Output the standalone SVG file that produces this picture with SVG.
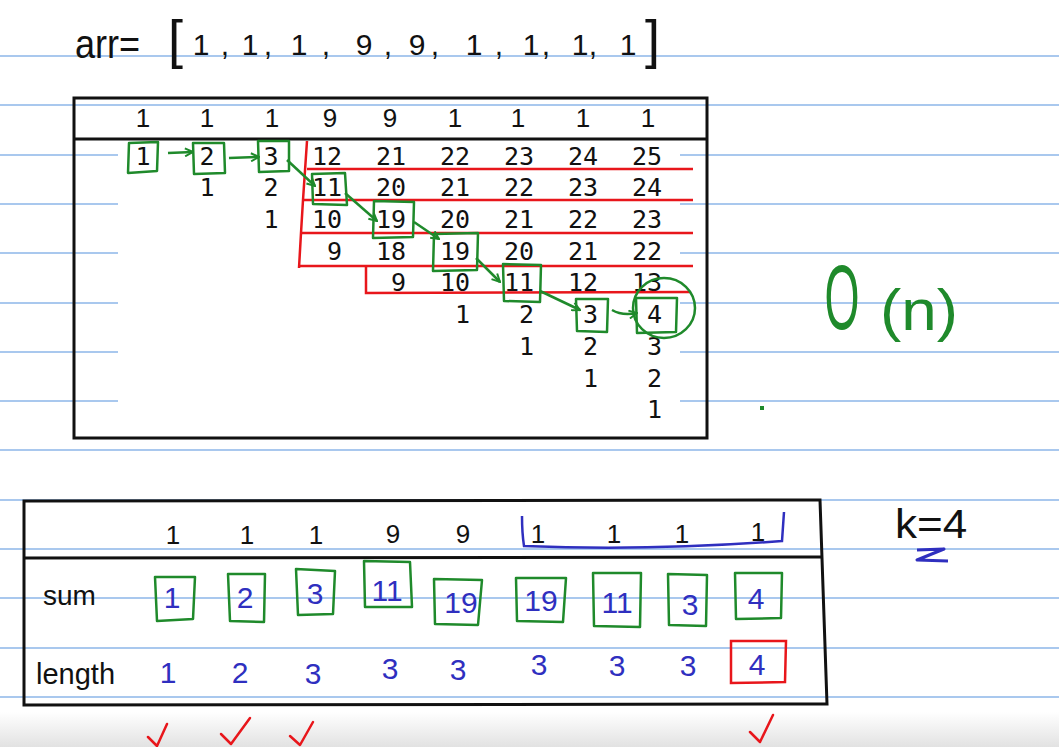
<svg xmlns="http://www.w3.org/2000/svg" width="1059" height="747" viewBox="0 0 1059 747">
<style>
.rule{stroke:#a9c8ee;stroke-width:2}
.frame{fill:none;stroke:#111;stroke-width:3}
.hand{font-family:"Liberation Sans",Arial,sans-serif;fill:#111}
.mono{font-family:"DejaVu Sans Mono","Liberation Mono",monospace;font-size:25px;fill:#111;text-anchor:end}
.hd{font-family:"Liberation Sans",Arial,sans-serif;font-size:26px;fill:#111;text-anchor:middle}
.bl{font-family:"Liberation Sans",Arial,sans-serif;font-size:30px;fill:#2f2fbf;text-anchor:middle}
.gbox{fill:none;stroke:#1f8a2b;stroke-width:2.5;stroke-linejoin:round}
.rbox{fill:none;stroke:#e8161b;stroke-width:2.5}
.red{fill:none;stroke:#e8161b;stroke-width:2.5}
.garr{fill:none;stroke:#1f8a2b;stroke-width:2.5;marker-end:url(#ga)}
.chk{fill:none;stroke:#e8161b;stroke-width:2.5;stroke-linecap:round;stroke-linejoin:round}
</style>
<defs>
<marker id="ga" viewBox="0 0 10 10" refX="9" refY="5" markerWidth="10" markerHeight="10" markerUnits="userSpaceOnUse" orient="auto">
<path d="M1,1 L9,5 L1,9" fill="none" stroke="#1f8a2b" stroke-width="2"/>
</marker>
<linearGradient id="fade" x1="0" y1="0" x2="0" y2="1">
<stop offset="0" stop-color="#ffffff"/>
<stop offset="1" stop-color="#e2e2e2"/>
</linearGradient>
</defs>
<rect width="1059" height="747" fill="#ffffff"/>
<rect x="0" y="712" width="1059" height="35" fill="url(#fade)"/>
<g id="rules">
<line class="rule" x1="0" y1="56" x2="1059" y2="56"/>
<line class="rule" x1="0" y1="105" x2="1059" y2="105"/>
<line class="rule" x1="0" y1="155" x2="1059" y2="155"/>
<line class="rule" x1="0" y1="204" x2="1059" y2="204"/>
<line class="rule" x1="0" y1="253" x2="1059" y2="253"/>
<line class="rule" x1="0" y1="303" x2="1059" y2="303"/>
<line class="rule" x1="0" y1="352" x2="1059" y2="352"/>
<line class="rule" x1="0" y1="401" x2="1059" y2="401"/>
<line class="rule" x1="0" y1="450" x2="1059" y2="450"/>
<line class="rule" x1="0" y1="500" x2="1059" y2="500"/>
<line class="rule" x1="0" y1="549" x2="1059" y2="549"/>
<line class="rule" x1="0" y1="598" x2="1059" y2="598"/>
<line class="rule" x1="0" y1="648" x2="1059" y2="648"/>
<line class="rule" x1="0" y1="697" x2="1059" y2="697"/>
</g>
<g id="arr-line">
<text class="hand" x="75" y="55" font-size="38" transform="translate(75,0) scale(0.95,1.05) translate(-75,0)">arr=</text>
<text class="hand" x="168" y="58" font-size="54">[</text>
<text class="hand" x="201" y="55" font-size="30" text-anchor="middle">1</text>
<text class="hand" x="225" y="55" font-size="30" text-anchor="middle">,</text>
<text class="hand" x="250" y="55" font-size="30" text-anchor="middle">1</text>
<text class="hand" x="268" y="55" font-size="30" text-anchor="middle">,</text>
<text class="hand" x="299" y="55" font-size="30" text-anchor="middle">1</text>
<text class="hand" x="326" y="55" font-size="30" text-anchor="middle">,</text>
<text class="hand" x="364" y="55" font-size="30" text-anchor="middle">9</text>
<text class="hand" x="388" y="55" font-size="30" text-anchor="middle">,</text>
<text class="hand" x="417" y="55" font-size="30" text-anchor="middle">9</text>
<text class="hand" x="435" y="55" font-size="30" text-anchor="middle">,</text>
<text class="hand" x="474" y="55" font-size="30" text-anchor="middle">1</text>
<text class="hand" x="499" y="55" font-size="30" text-anchor="middle">,</text>
<text class="hand" x="531" y="55" font-size="30" text-anchor="middle">1</text>
<text class="hand" x="546" y="55" font-size="30" text-anchor="middle">,</text>
<text class="hand" x="580" y="55" font-size="30" text-anchor="middle">1</text>
<text class="hand" x="593" y="55" font-size="30" text-anchor="middle">,</text>
<text class="hand" x="628" y="55" font-size="30" text-anchor="middle">1</text>
<text class="hand" x="645" y="58" font-size="54">]</text>
</g>
<g id="top-table">
<rect x="118" y="141" width="562" height="295" fill="#ffffff"/>
<rect class="frame" x="74" y="98" width="633" height="340"/>
<line class="frame" x1="74" y1="139" x2="707" y2="139"/>
<text class="hd" x="143" y="127">1</text>
<text class="hd" x="207" y="127">1</text>
<text class="hd" x="272" y="127">1</text>
<text class="hd" x="330" y="127">9</text>
<text class="hd" x="390" y="127">9</text>
<text class="hd" x="455" y="127">1</text>
<text class="hd" x="518" y="127">1</text>
<text class="hd" x="583" y="127">1</text>
<text class="hd" x="648" y="127">1</text>
</g>
<g id="red-marks">
<path class="red" d="M307,141 L303,200 L301,233 L299,268"/>
<line class="red" x1="307" y1="169" x2="693" y2="169"/>
<line class="red" x1="302" y1="200" x2="693" y2="200"/>
<line class="red" x1="301" y1="233" x2="693" y2="233"/>
<line class="red" x1="300" y1="266" x2="693" y2="266"/>
<path class="red" d="M366,267 L366,293 L690,292"/>
</g>
<g id="cells">
<text class="mono" y="165"><tspan x="150.5">1</tspan><tspan x="214.5">2</tspan><tspan x="278.5">3</tspan><tspan x="342">12</tspan><tspan x="406">21</tspan><tspan x="470">22</tspan><tspan x="534">23</tspan><tspan x="598">24</tspan><tspan x="662">25</tspan></text>
<text class="mono" y="196"><tspan x="214.5">1</tspan><tspan x="278.5">2</tspan><tspan x="342">11</tspan><tspan x="406">20</tspan><tspan x="470">21</tspan><tspan x="534">22</tspan><tspan x="598">23</tspan><tspan x="662">24</tspan></text>
<text class="mono" y="228"><tspan x="278.5">1</tspan><tspan x="342">10</tspan><tspan x="406">19</tspan><tspan x="470">20</tspan><tspan x="534">21</tspan><tspan x="598">22</tspan><tspan x="662">23</tspan></text>
<text class="mono" y="260"><tspan x="342">9</tspan><tspan x="406">18</tspan><tspan x="470">19</tspan><tspan x="534">20</tspan><tspan x="598">21</tspan><tspan x="662">22</tspan></text>
<text class="mono" y="291"><tspan x="406">9</tspan><tspan x="470">10</tspan><tspan x="534">11</tspan><tspan x="598">12</tspan><tspan x="662">13</tspan></text>
<text class="mono" y="323"><tspan x="470">1</tspan><tspan x="534">2</tspan><tspan x="598">3</tspan><tspan x="662">4</tspan></text>
<text class="mono" y="355"><tspan x="534">1</tspan><tspan x="598">2</tspan><tspan x="662">3</tspan></text>
<text class="mono" y="387"><tspan x="598">1</tspan><tspan x="662">2</tspan></text>
<text class="mono" y="418"><tspan x="662">1</tspan></text>
</g>
<g id="node-r0c0"><path class="gbox" d="M129,143 L158,142 L157,171 L128,173 Z"/></g>
<g id="node-r0c1"><path class="gbox" d="M193,143 L224,143 L225,173 L194,174 Z"/></g>
<g id="node-r0c2"><path class="gbox" d="M258,141 L289,141 L289,171 L259,172 Z"/></g>
<g id="node-r1c3"><path class="gbox" d="M312,174 L345,173 L347,205 L313,204 Z"/></g>
<g id="node-r2c4"><path class="gbox" d="M374,201 L414,202 L413,237 L373,238 Z"/></g>
<g id="node-r3c5"><path class="gbox" d="M434,234 L478,233 L477,270 L433,271 Z"/></g>
<g id="node-r4c6"><path class="gbox" d="M503,264 L541,265 L540,302 L504,301 Z"/></g>
<g id="node-r5c7"><path class="gbox" d="M576,299 L608,299 L607,332 L577,331 Z"/></g>
<g id="node-r5c8"><path class="gbox" d="M636,298 L677,298 L676,332 L637,333 Z"/><ellipse class="gbox" cx="664" cy="308" rx="31" ry="30"/></g>
<g id="connectors">
<path class="garr" d="M168,153 L193,152"/>
<path class="garr" d="M229,158 L259,157"/>
<path class="garr" d="M287,160 L315,186"/>
<path class="garr" d="M345,193 L377,221"/>
<path class="garr" d="M414,222 L439,239"/>
<path class="garr" d="M476,258 L500,282"/>
<path class="garr" d="M540,291 L580,310"/>
<path class="garr" d="M612,310 Q622,316 637,313"/>
</g>
<g id="complexity">
<text x="842" y="329" font-family="Liberation Sans,Arial,sans-serif" font-size="90" fill="#1f8a2b" text-anchor="middle" transform="translate(842,0) scale(0.5,1) translate(-842,0)">O</text>
<text x="880" y="330" font-family="Liberation Sans,Arial,sans-serif" font-size="58" fill="#1f8a2b" transform="translate(880,0) scale(1.1,1) translate(-880,0)">(n)</text>
<rect x="760" y="406" width="4" height="4" fill="#1f8a2b"/>
</g>
<g id="bottom-table">
<path class="frame" d="M24,501 L820,500 L827,704 L24,705 Z"/>
<line class="frame" x1="24" y1="558" x2="822" y2="557"/>
<text class="hd" x="173" y="544">1</text>
<text class="hd" x="247" y="544">1</text>
<text class="hd" x="316" y="544">1</text>
<text class="hd" x="393" y="543">9</text>
<text class="hd" x="463" y="543">9</text>
<text class="hd" x="538" y="543">1</text>
<text class="hd" x="614" y="543">1</text>
<text class="hd" x="682" y="543">1</text>
<text class="hd" x="758" y="541">1</text>
<path d="M522,516 Q522,533 524,546 Q650,551 782,541 L784,512" fill="none" stroke="#2f2fbf" stroke-width="2.5"/>
<text class="hand" x="43" y="605" font-size="28">sum</text>
<text class="hand" x="36" y="684" font-size="29">length</text>
</g>
<g id="sum-row">
<path class="gbox" d="M155,577 L195,577 L193,619 L157,621 Z"/><text class="bl" x="172" y="608">1</text>
<path class="gbox" d="M228,574 L265,574 L264,622 L230,621 Z"/><text class="bl" x="245" y="608">2</text>
<path class="gbox" d="M296,569 L335,571 L333,614 L298,615 Z"/><text class="bl" x="315" y="604">3</text>
<path class="gbox" d="M364,561 L410,562 L412,607 L365,607 Z"/><text class="bl" x="387" y="601">11</text>
<path class="gbox" d="M434,579 L482,580 L478,625 L435,624 Z"/><text class="bl" x="461" y="613">19</text>
<path class="gbox" d="M516,578 L566,578 L563,622 L517,621 Z"/><text class="bl" x="541" y="611">19</text>
<path class="gbox" d="M593,573 L641,573 L640,627 L594,626 Z"/><text class="bl" x="617" y="613">11</text>
<path class="gbox" d="M668,574 L707,575 L706,626 L669,625 Z"/><text class="bl" x="690" y="615">3</text>
<path class="gbox" d="M735,573 L782,573 L781,618 L736,619 Z"/><text class="bl" x="756" y="609">4</text>
</g>
<g id="length-row">
<text class="bl" x="168" y="683">1</text>
<text class="bl" x="240" y="683">2</text>
<text class="bl" x="313" y="684">3</text>
<text class="bl" x="390" y="679">3</text>
<text class="bl" x="458" y="680">3</text>
<text class="bl" x="539" y="675">3</text>
<text class="bl" x="617" y="676">3</text>
<text class="bl" x="688" y="676">3</text>
<path class="rbox" d="M731,641 L786,641 L785,682 L731,683 Z"/><text class="bl" x="757" y="675">4</text>
</g>
<g id="k-note">
<text class="hand" x="895" y="538" font-size="40" transform="translate(895,0) scale(1.1,1) translate(-895,0)">k=4</text>
<path d="M917,550 L944,549 L917,560 L948,561" fill="none" stroke="#2f2fbf" stroke-width="3" stroke-linejoin="round"/>
</g>
<g id="checks">
<path class="chk" d="M148,737 L157,746 L167,724"/>
<path class="chk" d="M221,734 L231,744 L250,718"/>
<path class="chk" d="M290,736 L300,745 L313,722"/>
<path class="chk" d="M750,732 L760,742 L773,715"/>
</g>
</svg>
